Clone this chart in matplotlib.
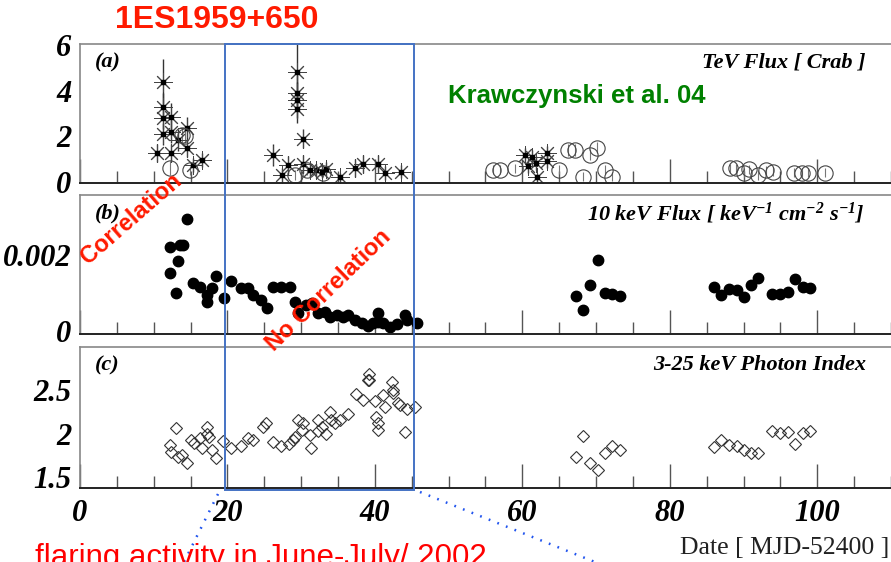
import matplotlib
matplotlib.use('Agg')
from matplotlib import pyplot as plt
from matplotlib.patches import Rectangle
from matplotlib.lines import Line2D
from matplotlib.ticker import MultipleLocator, FixedLocator
import numpy as np

plt.rcParams['mathtext.fontset'] = 'custom'
plt.rcParams['mathtext.rm'] = 'Liberation Serif:bold:italic'
plt.rcParams['mathtext.it'] = 'Liberation Serif:bold:italic'

# (a) TeV flux, asterisks and open circles
tev_star_x = [10.4, 11.3, 11.3, 11.3, 11.3, 12.4, 12.4, 12.4, 13.3, 14.5, 14.5, 15.3, 16.5,
              26.2, 27.4, 28.2, 29.4, 29.4, 29.4, 29.4, 30.3, 30.2, 31.2, 32.0, 32.8, 33.3,
              35.3, 37.3, 38.4, 40.4, 41.4, 43.6,
              60.3, 60.8, 61.3, 61.8, 62.0, 63.3, 63.3]
tev_star_y = [1.27, 4.4, 3.3, 2.8, 2.1, 2.85, 2.2, 1.27, 1.84, 2.35, 1.48, 0.75, 0.96,
              1.18, 0.3, 0.75, 4.8, 3.9, 3.6, 3.2, 1.9, 0.8, 0.5, 0.5, 0.45, 0.55,
              0.2, 0.6, 0.8, 0.8, 0.4, 0.45,
              1.2, 0.7, 1.1, 0.83, 0.2, 0.9, 1.27]
tev_star_err = [0.4, 1.0, 0.6, 0.5, 0.5, 0.6, 0.5, 0.4, 0.5, 0.5, 0.4, 0.3, 0.3,
                0.5, 0.3, 0.4, 1.3, 0.8, 0.8, 0.6, 0.4, 0.4, 0.3, 0.3, 0.3, 0.3,
                0.2, 0.4, 0.4, 0.4, 0.3, 0.3,
                0.3, 0.3, 0.3, 0.3, 0.2, 0.3, 0.3]

tev_circ_x = [12.2, 13.8, 14.9, 14.2, 29.2, 30.8, 33.0,
              56.0, 57.0, 59.0, 65.0, 66.2, 67.1, 69.2, 70.1, 68.2, 71.2, 72.1,
              88.1, 89.0, 90.0, 90.8, 91.9, 93.1, 94.0, 96.9, 97.9, 98.8, 101.0]
tev_circ_y = [0.6, 2.05, 0.5, 2.0, 0.3, 0.5, 0.4,
              0.53, 0.53, 0.6, 0.53, 1.4, 1.4, 1.2, 1.5, 0.22, 0.53, 0.22,
              0.6, 0.6, 0.4, 0.55, 0.3, 0.5, 0.45, 0.4, 0.4, 0.4, 0.4]
tev_circ_err = [0.3, 0.3, 0.2, 0.3, 0.2, 0.2, 0.2,
                0.2, 0.2, 0.2, 0.2, 0.25, 0.25, 0.25, 0.25, 0.2, 0.2, 0.2,
                0.2, 0.2, 0.2, 0.2, 0.2, 0.2, 0.2, 0.2, 0.2, 0.2, 0.2]

# (b) 10 keV flux
flux_x = [12.2, 12.2, 13.0, 13.3, 13.6, 14.0, 14.5, 15.3, 16.3, 17.2, 17.2, 17.9, 18.5,
          19.5, 20.5, 21.8, 22.8, 23.4, 24.6, 25.3, 26.2, 27.3, 28.5, 29.2, 29.6, 30.7,
          31.4, 32.3, 33.2, 33.9, 34.8, 35.7, 36.4, 37.3, 38.2, 39.1, 39.8, 40.4, 40.4,
          41.1, 42.0, 43.0, 44.1, 44.3, 45.7,
          67.3, 68.2, 69.2, 70.2, 71.2, 72.2, 73.2,
          86.0, 87.0, 88.0, 89.1, 90.0, 91.0, 91.9, 93.9, 94.9, 96.0, 97.0, 98.0, 99.0]
flux_y = [0.00153, 0.00221, 0.00100, 0.00184, 0.00226, 0.00226, 0.00295, 0.00126, 0.00116,
          0.00095, 0.00076, 0.00113, 0.00145, 0.00087, 0.00132, 0.00113, 0.00113, 0.00095,
          0.00082, 0.00060, 0.00116, 0.00115, 0.00115, 0.00076, 0.00047, 0.00068, 0.00074,
          0.00047, 0.00050, 0.00037, 0.00042, 0.00037, 0.00042, 0.00029, 0.00021, 0.00013,
          0.00021, 0.00047, 0.00024, 0.00021, 0.00010, 0.00018, 0.00042, 0.00029, 0.00021,
          0.00092, 0.00055, 0.00121, 0.00187, 0.00100, 0.00097, 0.00092,
          0.00116, 0.00095, 0.00110, 0.00108, 0.00090, 0.00121, 0.00140, 0.00097, 0.00097,
          0.00103, 0.00137, 0.00116, 0.00113]

# (c) 3-25 keV photon index
index_x = [12.2, 12.4, 13.0, 13.3, 13.8, 14.5, 15.1, 15.5, 16.3, 16.5, 17.2, 17.2, 17.5,
           17.9, 18.4, 19.4, 20.5, 21.8, 22.8, 23.4, 24.8, 25.2, 26.2, 27.3, 28.3, 28.9,
           29.2, 29.6, 30.3, 30.1, 31.2, 31.3, 32.3, 32.3, 32.8, 33.4, 33.9, 34.1, 34.6,
           35.3, 36.4, 37.4, 38.4, 39.1, 39.2, 39.2, 40.0, 40.2, 40.4, 40.4, 41.1, 41.4,
           42.3, 42.4, 42.5, 43.1, 43.4, 44.1, 44.4, 45.4,
           67.3, 68.2, 69.2, 70.2, 71.2, 72.2, 73.2,
           86.0, 87.0, 88.0, 89.1, 90.0, 91.0, 91.9, 93.9, 94.9, 96.0, 97.0, 98.0, 99.0]
index_y = [1.87, 1.79, 2.06, 1.73, 1.75, 1.66, 1.93, 1.89, 1.95, 1.83, 2.07, 1.99, 1.96,
           1.81, 1.72, 1.91, 1.83, 1.86, 1.95, 1.93, 2.07, 2.12, 1.90, 1.86, 1.88, 1.93,
           1.96, 2.16, 2.12, 2.04, 1.98, 1.83, 2.16, 2.03, 2.07, 2.00, 2.25, 2.16, 2.12,
           2.16, 2.22, 2.45, 2.39, 2.61, 2.69, 2.62, 2.37, 2.19, 2.12, 2.04, 2.44, 2.30,
           2.59, 2.47, 2.50, 2.35, 2.33, 2.02, 2.28, 2.30,
           1.73, 1.97, 1.66, 1.58, 1.78, 1.86, 1.81,
           1.85, 1.93, 1.87, 1.86, 1.81, 1.78, 1.78, 2.03, 2.01, 2.02, 1.88, 2.01, 2.03]

serif = 'Liberation Serif'
sans = 'Liberation Sans'
W, H = 891, 562

fig = plt.figure(figsize=(8.91, 5.62), dpi=100)

def px_rect(left, top, right, bottom):
    return [left / W, 1 - bottom / H, (right - left) / W, (bottom - top) / H]

ax_a = fig.add_axes(px_rect(80, 44, 891, 183))
ax_b = fig.add_axes(px_rect(80, 195, 891, 334))
ax_c = fig.add_axes(px_rect(80, 347, 891, 488))

tick_font = dict(family=serif, weight='bold', style='italic', size=22)

for ax in (ax_a, ax_b, ax_c):
    ax.set_xlim(0, 110)
    ax.xaxis.set_major_locator(MultipleLocator(20))
    ax.xaxis.set_minor_locator(MultipleLocator(5))
    ax.tick_params(axis='x', which='major', direction='in', length=17, width=1.0,
                   color='#555555', pad=8)
    ax.tick_params(axis='x', which='minor', direction='in', length=8.5, width=1.0,
                   color='#555555')
    ax.tick_params(axis='y', which='both', length=0, pad=6)
    for s in ('top', 'left'):
        ax.spines[s].set_color('#888888')
        ax.spines[s].set_linewidth(1.2)
    ax.spines['right'].set_visible(False)
    ax.spines['bottom'].set_color('#222222')
    ax.spines['bottom'].set_linewidth(1.4)

# panel (a)
ax_a.errorbar(tev_circ_x, tev_circ_y, yerr=tev_circ_err, fmt='o', ms=11, mfc='none',
              mec='#444444', mew=0.8, ecolor='#777777', elinewidth=0.8, capsize=0)
ax_a.errorbar(tev_star_x, tev_star_y, yerr=tev_star_err, fmt='none',
              ecolor='#333333', elinewidth=1.0, capsize=0)
ax_a.plot(tev_star_x, tev_star_y, ls='none', marker=(8, 2, 0), ms=13, mec='#444444',
          mew=0.7)
ax_a.plot(tev_star_x, tev_star_y, ls='none', marker='s', ms=2.2, color='black')
ax_a.set_ylim(-0.05, 6.05)
ax_a.yaxis.set_major_locator(FixedLocator([0, 2, 4, 6]))
ax_a.set_yticklabels(['0', '2', '4', '6'], **tick_font)
ax_a.set_xticklabels([])

# panel (b)
ax_b.plot(flux_x, flux_y, ls='none', marker='o', ms=7.5, color='black')
ax_b.set_ylim(-0.00008, 0.00358)
ax_b.yaxis.set_major_locator(FixedLocator([0, 0.002]))
ax_b.set_yticklabels(['0', '0.002'], **tick_font)
ax_b.set_xticklabels([])

# panel (c)
ax_c.plot(index_x, index_y, ls='none', marker='D', ms=6.3, mfc='none', mec='#333333',
          mew=0.8)
ax_c.set_ylim(1.374, 2.995)
ax_c.yaxis.set_major_locator(FixedLocator([1.5, 2, 2.5]))
ax_c.set_yticklabels(['1.5', '2', '2.5'], **tick_font)
ax_c.set_xticks([0, 20, 40, 60, 80, 100])
ax_c.set_xticklabels(['0', '20', '40', '60', '80', '100'], **tick_font)

lab_font = dict(family=serif, weight='bold', style='italic', size=16)
for ax, letter in ((ax_a, '(a)'), (ax_b, '(b)'), (ax_c, '(c)')):
    ax.text(15 / 811, 0.87, letter, transform=ax.transAxes, ha='left', va='center', **lab_font)
ax_a.text(785 / 811, 0.87, 'TeV Flux [ Crab ]', transform=ax_a.transAxes, ha='right',
          va='center', **lab_font)
ax_b.text(785 / 811, 0.87, r'10 keV Flux [ keV$^{-1}$ cm$^{-2}$ s$^{-1}$]',
          transform=ax_b.transAxes, ha='right', va='center', **lab_font)
ax_c.text(786 / 811, 0.87, '3-25 keV Photon Index', transform=ax_c.transAxes, ha='right',
          va='center', **lab_font)

fig.text(889 / W, 1 - 554 / H, 'Date [ MJD-52400 ]', family=serif, size=18.5,
         ha='right', va='baseline', color='#222222')

# slide annotations
blue = '#4472C4'
fig.add_artist(Rectangle((225 / W, 1 - 490 / H), (414 - 225) / W, (490 - 44) / H,
                         transform=fig.transFigure, fill=False, ec=blue, lw=1.4))
dot_blue = '#2255EE'
fig.add_artist(Line2D([218 / W, 183 / W], [1 - 494 / H, 1 - 564 / H],
                      transform=fig.transFigure, color=dot_blue, lw=1.8,
                      ls=(0, (0.7, 3.0))))
fig.add_artist(Line2D([420 / W, 600 / W], [1 - 492 / H, 1 - 564 / H],
                      transform=fig.transFigure, color=dot_blue, lw=1.8,
                      ls=(0, (0.7, 3.0))))

red = '#FF1A00'
fig.text(217 / W, 1 - 20 / H, '1ES1959+650', family=sans, weight='bold', size=23,
         color=red, ha='center', va='center')
fig.text(577 / W, 1 - 96 / H, 'Krawczynski et al. 04', family=sans, weight='bold', size=18.5,
         color='#008000', ha='center', va='center')
fig.text(131 / W, 1 - 219 / H, 'Correlation', family=sans, weight='bold', size=17,
         color=red, ha='center', va='center', rotation=41, rotation_mode='anchor')
fig.text(328 / W, 1 - 290 / H, 'No Correlation', family=sans, weight='bold', size=17,
         color=red, ha='center', va='center', rotation=44, rotation_mode='anchor')
fig.text(35 / W, 1 - 566 / H, 'flaring activity in June-July/ 2002', family=sans, size=22.5,
         color='#FF0000', ha='left', va='baseline')

fig.savefig('out.png', dpi=100)
